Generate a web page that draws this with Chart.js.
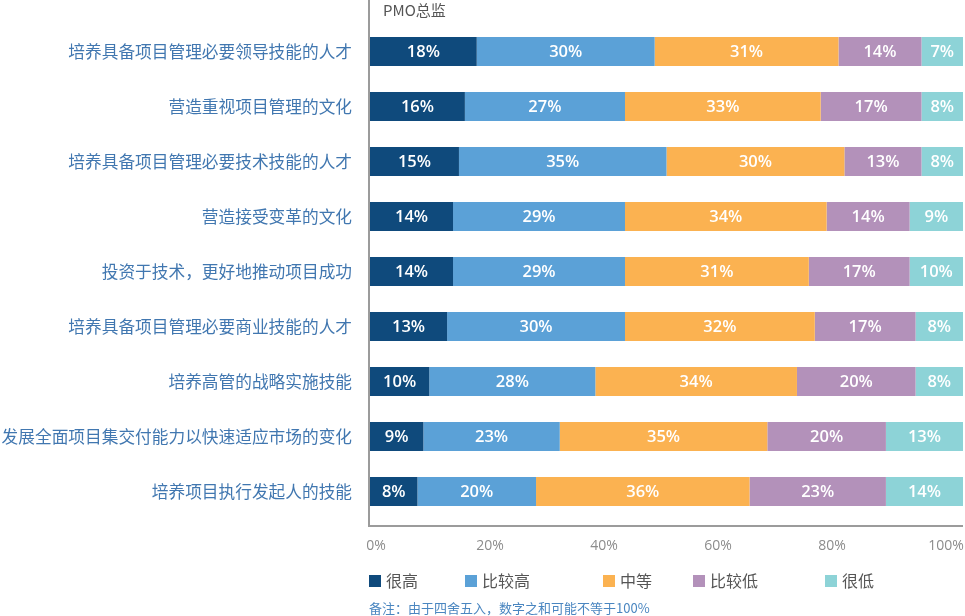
<!DOCTYPE html>
<html>
<head>
<meta charset="utf-8">
<script src="https://cdn.jsdelivr.net/npm/chart.js@4"></script>
<style>
    body { margin: 0; background: #fff; }
    #wrap { width: 965px; height: 616px; }
</style>
</head>
<body>
<div id="wrap"><canvas id="bars" width="965" height="616"></canvas></div>
<script>
const categories = [
    '培养具备项目管理必要领导技能的人才',
    '营造重视项目管理的文化',
    '培养具备项目管理必要技术技能的人才',
    '营造接受变革的文化',
    '投资于技术，更好地推动项目成功',
    '培养具备项目管理必要商业技能的人才',
    '培养高管的战略实施技能',
    '发展全面项目集交付能力以快速适应市场的变化',
    '培养项目执行发起人的技能'
];
const seriesNames = ['很高', '比较高', '中等', '比较低', '很低'];
const veryHigh = [18, 16, 15, 14, 14, 13, 10, 9, 8];
const high     = [30, 27, 35, 29, 29, 30, 28, 23, 20];
const medium   = [31, 33, 30, 34, 31, 32, 34, 35, 36];
const low      = [14, 17, 13, 14, 17, 17, 20, 20, 23];
const veryLow  = [7, 8, 8, 9, 10, 8, 8, 13, 14];
const tickValues = [0, 20, 40, 60, 80, 100];
const colors = ['#0f4a7c', '#5ba1d7', '#fbb251', '#b391ba', '#8dd3d7'];

const cjk = '"Noto Sans CJK SC", "Noto Sans", sans-serif';
const latin = '"Open Sans", "Noto Sans", sans-serif';

const seriesData = [veryHigh, high, medium, low, veryLow];

// draws percentage labels inside each bar segment
const barLabels = {
    id: 'barLabels',
    afterDatasetsDraw(chart) {
        const ctx = chart.ctx;
        ctx.save();
        ctx.fillStyle = '#fff';
        ctx.font = '600 16.5px ' + latin;
        ctx.textAlign = 'center';
        ctx.textBaseline = 'middle';
        chart.data.datasets.forEach((ds, i) => {
            chart.getDatasetMeta(i).data.forEach((bar, j) => {
                const right = Math.min(bar.x, chart.chartArea.right);
                const cx = (bar.base + right) / 2;
                ctx.fillText(ds.data[j] + '%', cx, bar.y + 1);
            });
        });
        ctx.restore();
    }
};

// axis lines, title, legend and footnote
const decor = {
    id: 'decor',
    afterDraw(chart) {
        const ctx = chart.ctx;
        const area = chart.chartArea;
        ctx.save();
        ctx.strokeStyle = '#9b9b9b';
        ctx.lineWidth = 2;
        ctx.beginPath();
        ctx.moveTo(369, 0);
        ctx.lineTo(369, 527);
        ctx.moveTo(368, 526);
        ctx.lineTo(area.right, 526);
        ctx.stroke();

        ctx.fillStyle = '#555';
        ctx.font = '15px ' + cjk;
        ctx.textAlign = 'left';
        ctx.textBaseline = 'middle';
        ctx.fillText('PMO总监', 383, 10);

        const legendX = [369, 465, 603, 693, 825];
        seriesNames.forEach((name, i) => {
            ctx.fillStyle = colors[i];
            ctx.fillRect(legendX[i], 575, 12, 12);
            ctx.fillStyle = '#555';
            ctx.font = '16px ' + cjk;
            ctx.fillText(name, legendX[i] + 17, 581);
        });

        ctx.fillStyle = '#4a86c0';
        ctx.font = '13px ' + cjk;
        ctx.fillText('备注：由于四舍五入，数字之和可能不等于100%', 369, 608);
        ctx.restore();
    }
};

const ctx = document.getElementById('bars').getContext('2d');
new Chart(ctx, {
    type: 'bar',
    data: {
        labels: categories,
        datasets: seriesData.map((d, i) => ({
            label: seriesNames[i],
            data: d,
            backgroundColor: colors[i],
            borderWidth: 0,
            barPercentage: 0.53,
            categoryPercentage: 1
        }))
    },
    options: {
        indexAxis: 'y',
        responsive: false,
        animation: false,
        layout: { padding: { top: 24, right: 2, left: 0, bottom: 0 } },
        plugins: {
            legend: { display: false },
            tooltip: { enabled: false }
        },
        scales: {
            x: {
                display: false,
                stacked: true,
                min: 0,
                max: 100
            },
            // separate axis only for the tick labels, they sit a bit inset in the original
            x2: {
                type: 'linear',
                position: 'bottom',
                min: -1.053,
                max: 102.98,
                grid: { display: false, drawTicks: false },
                border: { display: false },
                afterBuildTicks(scale) {
                    scale.ticks = tickValues.map(v => ({ value: v }));
                },
                afterFit(scale) {
                    scale.height = 97;
                    scale.paddingLeft = 0;
                    scale.paddingRight = 0;
                },
                ticks: {
                    padding: 19,
                    color: '#8c8c8c',
                    font: { family: latin, size: 14 },
                    maxRotation: 0,
                    callback: v => v + '%'
                }
            },
            y: {
                stacked: true,
                grid: { display: false, drawTicks: false },
                border: { display: false },
                afterFit(scale) {
                    scale.width = 370;
                    scale.paddingTop = 0;
                    scale.paddingBottom = 0;
                },
                ticks: {
                    padding: 18,
                    color: '#4177b0',
                    font: { family: cjk, size: 16.7 }
                }
            }
        }
    },
    plugins: [barLabels, decor]
});
</script>
</body>
</html>
